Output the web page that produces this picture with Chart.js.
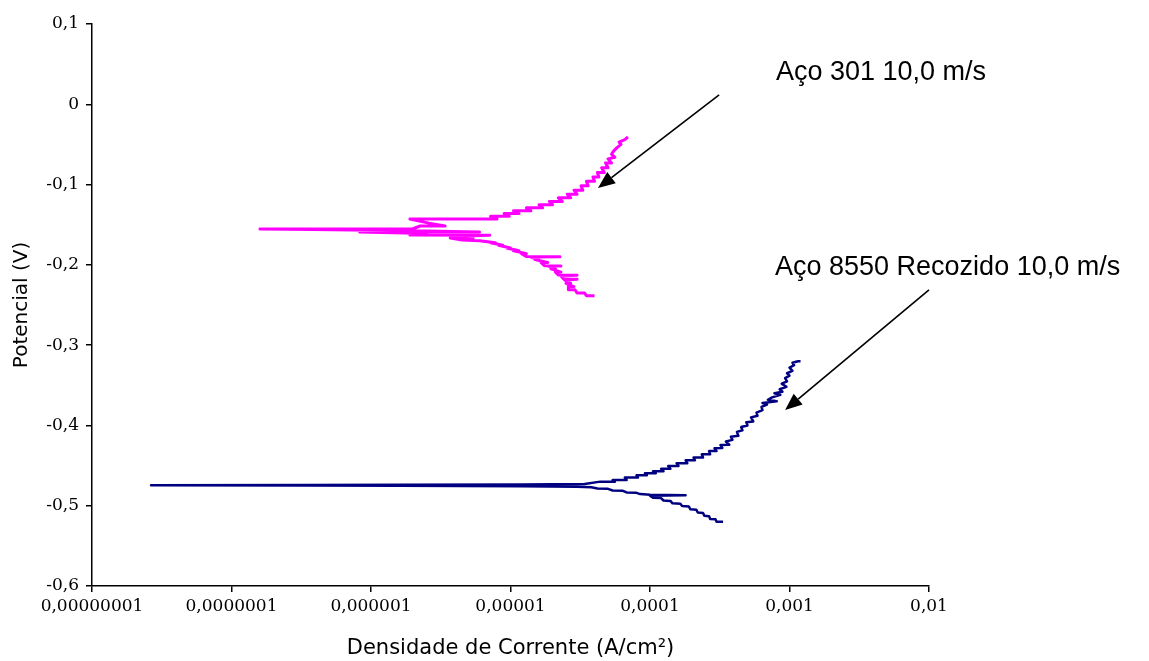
<!DOCTYPE html>
<html>
<head>
<meta charset="utf-8">
<script src="https://cdn.jsdelivr.net/npm/chart.js@4/dist/chart.umd.min.js"></script>
<style>
  html, body { margin: 0; padding: 0; background: #ffffff; }
  #wrap { width: 1149px; height: 661px; }
</style>
</head>
<body>
<div id="wrap"><canvas id="c" width="1149" height="661"></canvas></div>
<script>
// ---------- DATA ----------
const xTickValues = [1e-8, 1e-7, 1e-6, 1e-5, 1e-4, 1e-3, 1e-2];
const xTickLabels = ['0,00000001', '0,0000001', '0,000001', '0,00001', '0,0001', '0,001', '0,01'];
const yTickValues = [-0.6, -0.5, -0.4, -0.3, -0.2, -0.1, 0, 0.1];
const yTickLabels = ['-0,6', '-0,5', '-0,4', '-0,3', '-0,2', '-0,1', '0', '0,1'];

const seriesNames = ['Aço 301 10,0 m/s', 'Aço 8550 Recozido 10,0 m/s'];

// Aço 301 (magenta): current density (A/cm²), cathodic end -> anodic end
const aco301Current = [
  4.0e-5, 3.5e-5, 3.4e-5, 3.0e-5, 2.9e-5, 2.6e-5, 2.6e-5, 2.85e-5, 2.5e-5, 2.7e-5,
  2.45e-5, 3.0e-5, 2.4e-5, 2.3e-5, 3.0e-5, 2.2e-5, 2.1e-5, 2.3e-5, 1.95e-5, 2.1e-5,
  1.85e-5, 2.3e-5, 1.75e-5, 1.65e-5, 1.85e-5, 1.5e-5, 1.6e-5, 1.4e-5, 2.26e-5, 1.3e-5,
  1.2e-5, 1.3e-5, 1.05e-5, 1.15e-5, 9.4e-6, 1.0e-5, 8.2e-6, 8.8e-6, 7.2e-6, 7.8e-6,
  6.0e-6, 4.5e-6, 3.7e-6, 5.4e-6, 4.0e-6, 7.1e-6, 1.9e-6, 2.5e-6, 8.3e-7, 6.0e-6,
  2.0e-6, 3.8e-7, 1.6e-7, 2.0e-6, 2.25e-6, 3.4e-6, 2.6e-6, 1.9e-6, 5.4e-6, 8.0e-6,
  7.2e-6, 9.8e-6, 9.0e-6, 1.15e-5, 1.05e-5, 1.4e-5, 1.3e-5, 1.7e-5, 1.6e-5, 2.0e-5,
  1.9e-5, 2.35e-5, 2.2e-5, 2.7e-5, 2.55e-5, 3.0e-5, 2.85e-5, 3.3e-5, 3.2e-5, 3.6e-5,
  3.5e-5, 4.0e-5, 3.9e-5, 4.3e-5, 4.2e-5, 4.7e-5, 4.5e-5, 5.0e-5, 4.8e-5, 5.3e-5,
  5.0e-5, 5.6e-5, 5.3e-5, 5.5e-5, 5.8e-5, 6.2e-5, 6.0e-5, 6.6e-5, 6.95e-5
];
// Aço 301 (magenta): potential (V)
const aco301Potential = [
  -0.2385, -0.2385, -0.2350, -0.2350, -0.2310, -0.2310, -0.2270, -0.2270, -0.2230, -0.2230,
  -0.2190, -0.2180, -0.2175, -0.2140, -0.2128, -0.2125, -0.2090, -0.2090, -0.2050, -0.2050,
  -0.2015, -0.2013, -0.2010, -0.1970, -0.1970, -0.1935, -0.1935, -0.1905, -0.1900, -0.1897,
  -0.1860, -0.1860, -0.1825, -0.1825, -0.1790, -0.1790, -0.1755, -0.1755, -0.1725, -0.1725,
  -0.1700, -0.1690, -0.1665, -0.1665, -0.1645, -0.1630, -0.1628, -0.1610, -0.1592, -0.1590,
  -0.1575, -0.1560, -0.1553, -0.1550, -0.1516, -0.1516, -0.1480, -0.1430, -0.1428, -0.1428,
  -0.1395, -0.1395, -0.1360, -0.1360, -0.1325, -0.1325, -0.1290, -0.1290, -0.1250, -0.1250,
  -0.1210, -0.1210, -0.1165, -0.1165, -0.1120, -0.1120, -0.1070, -0.1070, -0.1015, -0.1015,
  -0.0960, -0.0960, -0.0905, -0.0905, -0.0850, -0.0850, -0.0790, -0.0790, -0.0730, -0.0730,
  -0.0680, -0.0660, -0.0620, -0.0580, -0.0540, -0.0500, -0.0470, -0.0440, -0.0407
];

// Aço 8550 Recozido (navy): current density (A/cm²), cathodic end -> anodic end
const aco8550Current = [
  3.34e-4, 3.0e-4, 2.95e-4, 2.7e-4, 2.65e-4, 2.45e-4, 2.4e-4, 2.2e-4, 2.15e-4, 1.95e-4,
  1.9e-4, 1.7e-4, 1.65e-4, 1.45e-4, 1.4e-4, 1.25e-4, 1.2e-4, 1.05e-4, 1.0e-4, 1.8e-4,
  1.0e-4, 8.5e-5, 8.0e-5, 6.8e-5, 6.4e-5, 5.4e-5, 5.0e-5, 4.2e-5, 3.8e-5, 3.0e-5,
  1.2e-5, 1.6e-6, 3.4e-7, 2.65e-8, 3.5e-7, 1.6e-6, 1.2e-5, 3.4e-5, 4.4e-5, 5.6e-5,
  5.4e-5, 6.8e-5, 6.6e-5, 8.2e-5, 8.0e-5, 9.5e-5, 9.2e-5, 1.1e-4, 1.05e-4, 1.25e-4,
  1.2e-4, 1.4e-4, 1.35e-4, 1.6e-4, 1.55e-4, 1.85e-4, 1.8e-4, 2.1e-4, 2.05e-4, 2.4e-4,
  2.35e-4, 2.7e-4, 2.65e-4, 3.0e-4, 2.9e-4, 3.3e-4, 3.2e-4, 3.7e-4, 3.5e-4, 3.9e-4,
  3.8e-4, 4.3e-4, 4.2e-4, 4.6e-4, 4.5e-4, 5.0e-4, 4.9e-4, 5.5e-4, 5.3e-4, 5.9e-4,
  5.8e-4, 6.4e-4, 6.3e-4, 6.9e-4, 6.4e-4, 8.1e-4, 7.0e-4, 7.5e-4, 8.6e-4, 7.8e-4,
  8.9e-4, 8.5e-4, 9.5e-4, 8.8e-4, 9.6e-4, 9.3e-4, 1.0e-3, 9.6e-4, 1.05e-3, 1.0e-3,
  1.08e-3, 1.05e-3, 1.15e-3, 1.2e-3
];
// Aço 8550 Recozido (navy): potential (V)
const aco8550Potential = [
  -0.5200, -0.5200, -0.5170, -0.5165, -0.5130, -0.5125, -0.5090, -0.5085, -0.5050, -0.5045,
  -0.5010, -0.5005, -0.4975, -0.4970, -0.4940, -0.4935, -0.4905, -0.4900, -0.4875, -0.4870,
  -0.4862, -0.4855, -0.4840, -0.4835, -0.4815, -0.4810, -0.4790, -0.4785, -0.4770, -0.4765,
  -0.4757, -0.4752, -0.4749, -0.4746, -0.4743, -0.4740, -0.4736, -0.4730, -0.4700, -0.4700,
  -0.4680, -0.4680, -0.4650, -0.4650, -0.4620, -0.4620, -0.4595, -0.4595, -0.4570, -0.4570,
  -0.4540, -0.4540, -0.4505, -0.4505, -0.4470, -0.4470, -0.4435, -0.4435, -0.4400, -0.4400,
  -0.4360, -0.4360, -0.4320, -0.4320, -0.4285, -0.4280, -0.4245, -0.4240, -0.4200, -0.4180,
  -0.4140, -0.4130, -0.4080, -0.4060, -0.4020, -0.4000, -0.3960, -0.3950, -0.3900, -0.3880,
  -0.3840, -0.3810, -0.3770, -0.3740, -0.3720, -0.3700, -0.3680, -0.3650, -0.3620, -0.3600,
  -0.3580, -0.3550, -0.3520, -0.3480, -0.3450, -0.3410, -0.3380, -0.3350, -0.3320, -0.3280,
  -0.3250, -0.3220, -0.3200, -0.3200
];

// ---------- ANNOTATIONS (placed in data coordinates) ----------
const annotations = [
  { text: seriesNames[0], textAt: [8.0e-4, 0.0303], arrowFrom: [3.13e-4, 0.0116], arrowTo: [4.24e-5, -0.1042] },
  { text: seriesNames[1], textAt: [7.87e-4, -0.2126], arrowFrom: [1.0e-2, -0.2313], arrowTo: [9.3e-4, -0.3807] }
];

const toPoints = (xs, ys) => xs.map((x, i) => ({ x: x, y: ys[i] }));

const annotationPlugin = {
  id: 'annot',
  afterDatasetsDraw(chart) {
    const ctx = chart.ctx;
    const xs = chart.scales.x, ys = chart.scales.y;
    ctx.save();
    annotations.forEach(a => {
      ctx.fillStyle = '#000';
      ctx.font = '27px "Liberation Sans", Arial, sans-serif';
      ctx.textBaseline = 'alphabetic';
      ctx.textAlign = 'left';
      ctx.fillText(a.text, xs.getPixelForValue(a.textAt[0]), ys.getPixelForValue(a.textAt[1]));
      const x1 = xs.getPixelForValue(a.arrowFrom[0]), y1 = ys.getPixelForValue(a.arrowFrom[1]);
      const x2 = xs.getPixelForValue(a.arrowTo[0]), y2 = ys.getPixelForValue(a.arrowTo[1]);
      const ang = Math.atan2(y2 - y1, x2 - x1);
      const headLen = 17, headHalf = 7;
      const bx = x2 - headLen * Math.cos(ang), by = y2 - headLen * Math.sin(ang);
      ctx.strokeStyle = '#000';
      ctx.lineWidth = 1.6;
      ctx.beginPath();
      ctx.moveTo(x1, y1);
      ctx.lineTo(bx, by);
      ctx.stroke();
      ctx.beginPath();
      ctx.moveTo(x2, y2);
      ctx.lineTo(bx + headHalf * Math.sin(ang), by - headHalf * Math.cos(ang));
      ctx.lineTo(bx - headHalf * Math.sin(ang), by + headHalf * Math.cos(ang));
      ctx.closePath();
      ctx.fill();
    });
    ctx.restore();
  }
};

new Chart(document.getElementById('c'), {
  type: 'scatter',
  data: {
    datasets: [
      {
        label: seriesNames[0],
        data: toPoints(aco301Current, aco301Potential),
        showLine: true,
        borderColor: '#FF00FF',
        backgroundColor: '#FF00FF',
        borderWidth: 3,
        borderJoinStyle: 'round',
        pointRadius: 0,
        tension: 0
      },
      {
        label: seriesNames[1],
        data: toPoints(aco8550Current, aco8550Potential),
        showLine: true,
        borderColor: '#000080',
        backgroundColor: '#000080',
        borderWidth: 2.5,
        borderJoinStyle: 'round',
        pointRadius: 0,
        tension: 0
      }
    ]
  },
  options: {
    responsive: false,
    devicePixelRatio: 1,
    animation: false,
    layout: { padding: { top: 24, right: 220, bottom: 0, left: 0 } },
    plugins: {
      legend: { display: false },
      tooltip: { enabled: false }
    },
    scales: {
      x: {
        type: 'logarithmic',
        position: 'bottom',
        min: 1e-8,
        max: 1e-2,
        afterBuildTicks: (scale) => { scale.ticks = xTickValues.map(v => ({ value: v })); },
        afterFit: (scale) => { scale.height = 75; },
        ticks: {
          autoSkip: false,
          maxRotation: 0,
          minRotation: 0,
          padding: 4,
          color: '#000',
          font: { family: '"DejaVu Serif", serif', size: 17 },
          callback: (value, index) => xTickLabels[index]
        },
        grid: { display: true, drawOnChartArea: false, drawTicks: true, tickLength: 6, color: '#000', lineWidth: 1.5 },
        border: { display: true, color: '#000', width: 1.5 },
        title: {
          display: true,
          text: 'Densidade de Corrente (A/cm²)',
          color: '#000',
          font: { family: '"DejaVu Sans", sans-serif', size: 21 },
          padding: { top: 0, bottom: 0 }
        }
      },
      y: {
        type: 'linear',
        position: 'left',
        min: -0.6,
        max: 0.1,
        afterBuildTicks: (scale) => { scale.ticks = yTickValues.map(v => ({ value: v })); },
        afterFit: (scale) => { scale.width = 92; },
        ticks: {
          autoSkip: false,
          padding: 7,
          color: '#000',
          font: { family: '"DejaVu Serif", serif', size: 17 },
          callback: (value, index) => yTickLabels[index]
        },
        grid: { display: true, drawOnChartArea: false, drawTicks: true, tickLength: 6, color: '#000', lineWidth: 1.5 },
        border: { display: true, color: '#000', width: 1.5 },
        title: {
          display: true,
          text: 'Potencial (V)',
          color: '#000',
          font: { family: '"DejaVu Sans", sans-serif', size: 20 },
          padding: { top: 10, bottom: 0 }
        }
      }
    }
  },
  plugins: [annotationPlugin]
});
</script>
</body>
</html>
